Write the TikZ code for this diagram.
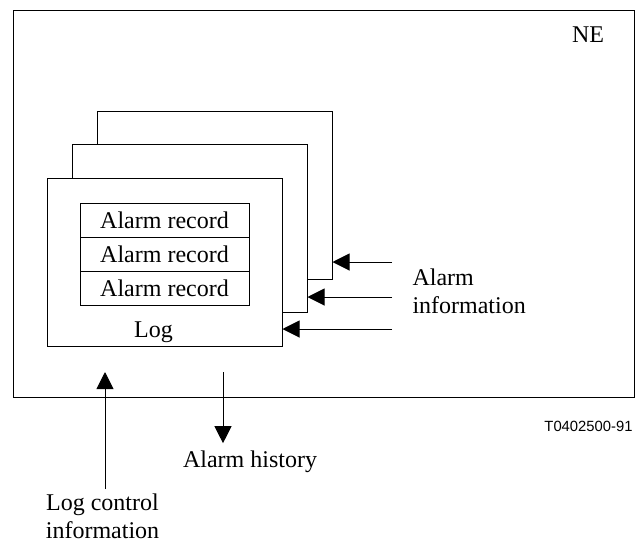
\documentclass[tikz,border=0pt]{standalone}
\usepackage{fontspec}
\setmainfont{Liberation Serif}
\newfontfamily\fignumfont{Liberation Sans}
\usetikzlibrary{arrows.meta}

\begin{document}
\begin{tikzpicture}[x=0.5pt, y=-0.5pt, line width=0.5pt,
  every node/.style={font=\fontsize{12}{14}\selectfont},
  logbox/.style={draw, rectangle, fill=white, minimum width=117.5pt, minimum height=84pt},
  recbox/.style={draw, rectangle, minimum width=84.5pt, minimum height=17pt, inner sep=0pt},
  flow/.style={-{Triangle[length=8.5pt,width=8.5pt]}}]
\useasboundingbox (0,0) rectangle (637,542);

% NE
\node[draw, rectangle, minimum width=310.5pt, minimum height=193.5pt] (ne) at (323.5,203.5) {};
\node (nelabel) at (588,35) {NE};

% Logs (back to front)
\node[logbox] (log3) at (214.5,195) {};
\node[logbox] (log2) at (189.5,228) {};
\node[logbox] (log1) at (164.5,262.5) {};

% Alarm records
\node[recbox] (rec1) at (164.5,220) {Alarm record};
\node[recbox] (rec2) at (164.5,254) {Alarm record};
\node[recbox] (rec3) at (164.5,288) {Alarm record};
\node[anchor=base] (logname) at (153.5,337) {Log};

% Alarm information
\coordinate (ain1) at (392,262);
\coordinate (ain2) at (392,297);
\coordinate (ain3) at (392,329);
\draw[flow] (ain1) -- (log3.east |- ain1);
\draw[flow] (ain2) -- (log2.east |- ain2);
\draw[flow] (ain3) -- (log1.east |- ain3);
\node[align=left, anchor=west, inner sep=0pt] (ainfo) at (412,291) {Alarm\\information};

% Alarm history
\coordinate (ahtop) at (223,372);
\node[anchor=base] (ahist) at (250,467) {Alarm history};
\draw[flow] (ahtop) -- (ahtop |- ahist.north);

% Log control
\node[align=center, anchor=south, inner sep=0pt] (lctrl) at (102.5,539) {Log control\\information};
\coordinate (lcbase) at (105,489);
\coordinate (lctip) at (105,372);
\draw[flow] (lcbase) -- (lctip);

% Figure number
\node[font=\fignumfont\fontsize{7.4}{9}\selectfont, anchor=east, inner sep=0pt] (fignum) at (633,426) {T0402500-91};

\end{tikzpicture}
\end{document}
